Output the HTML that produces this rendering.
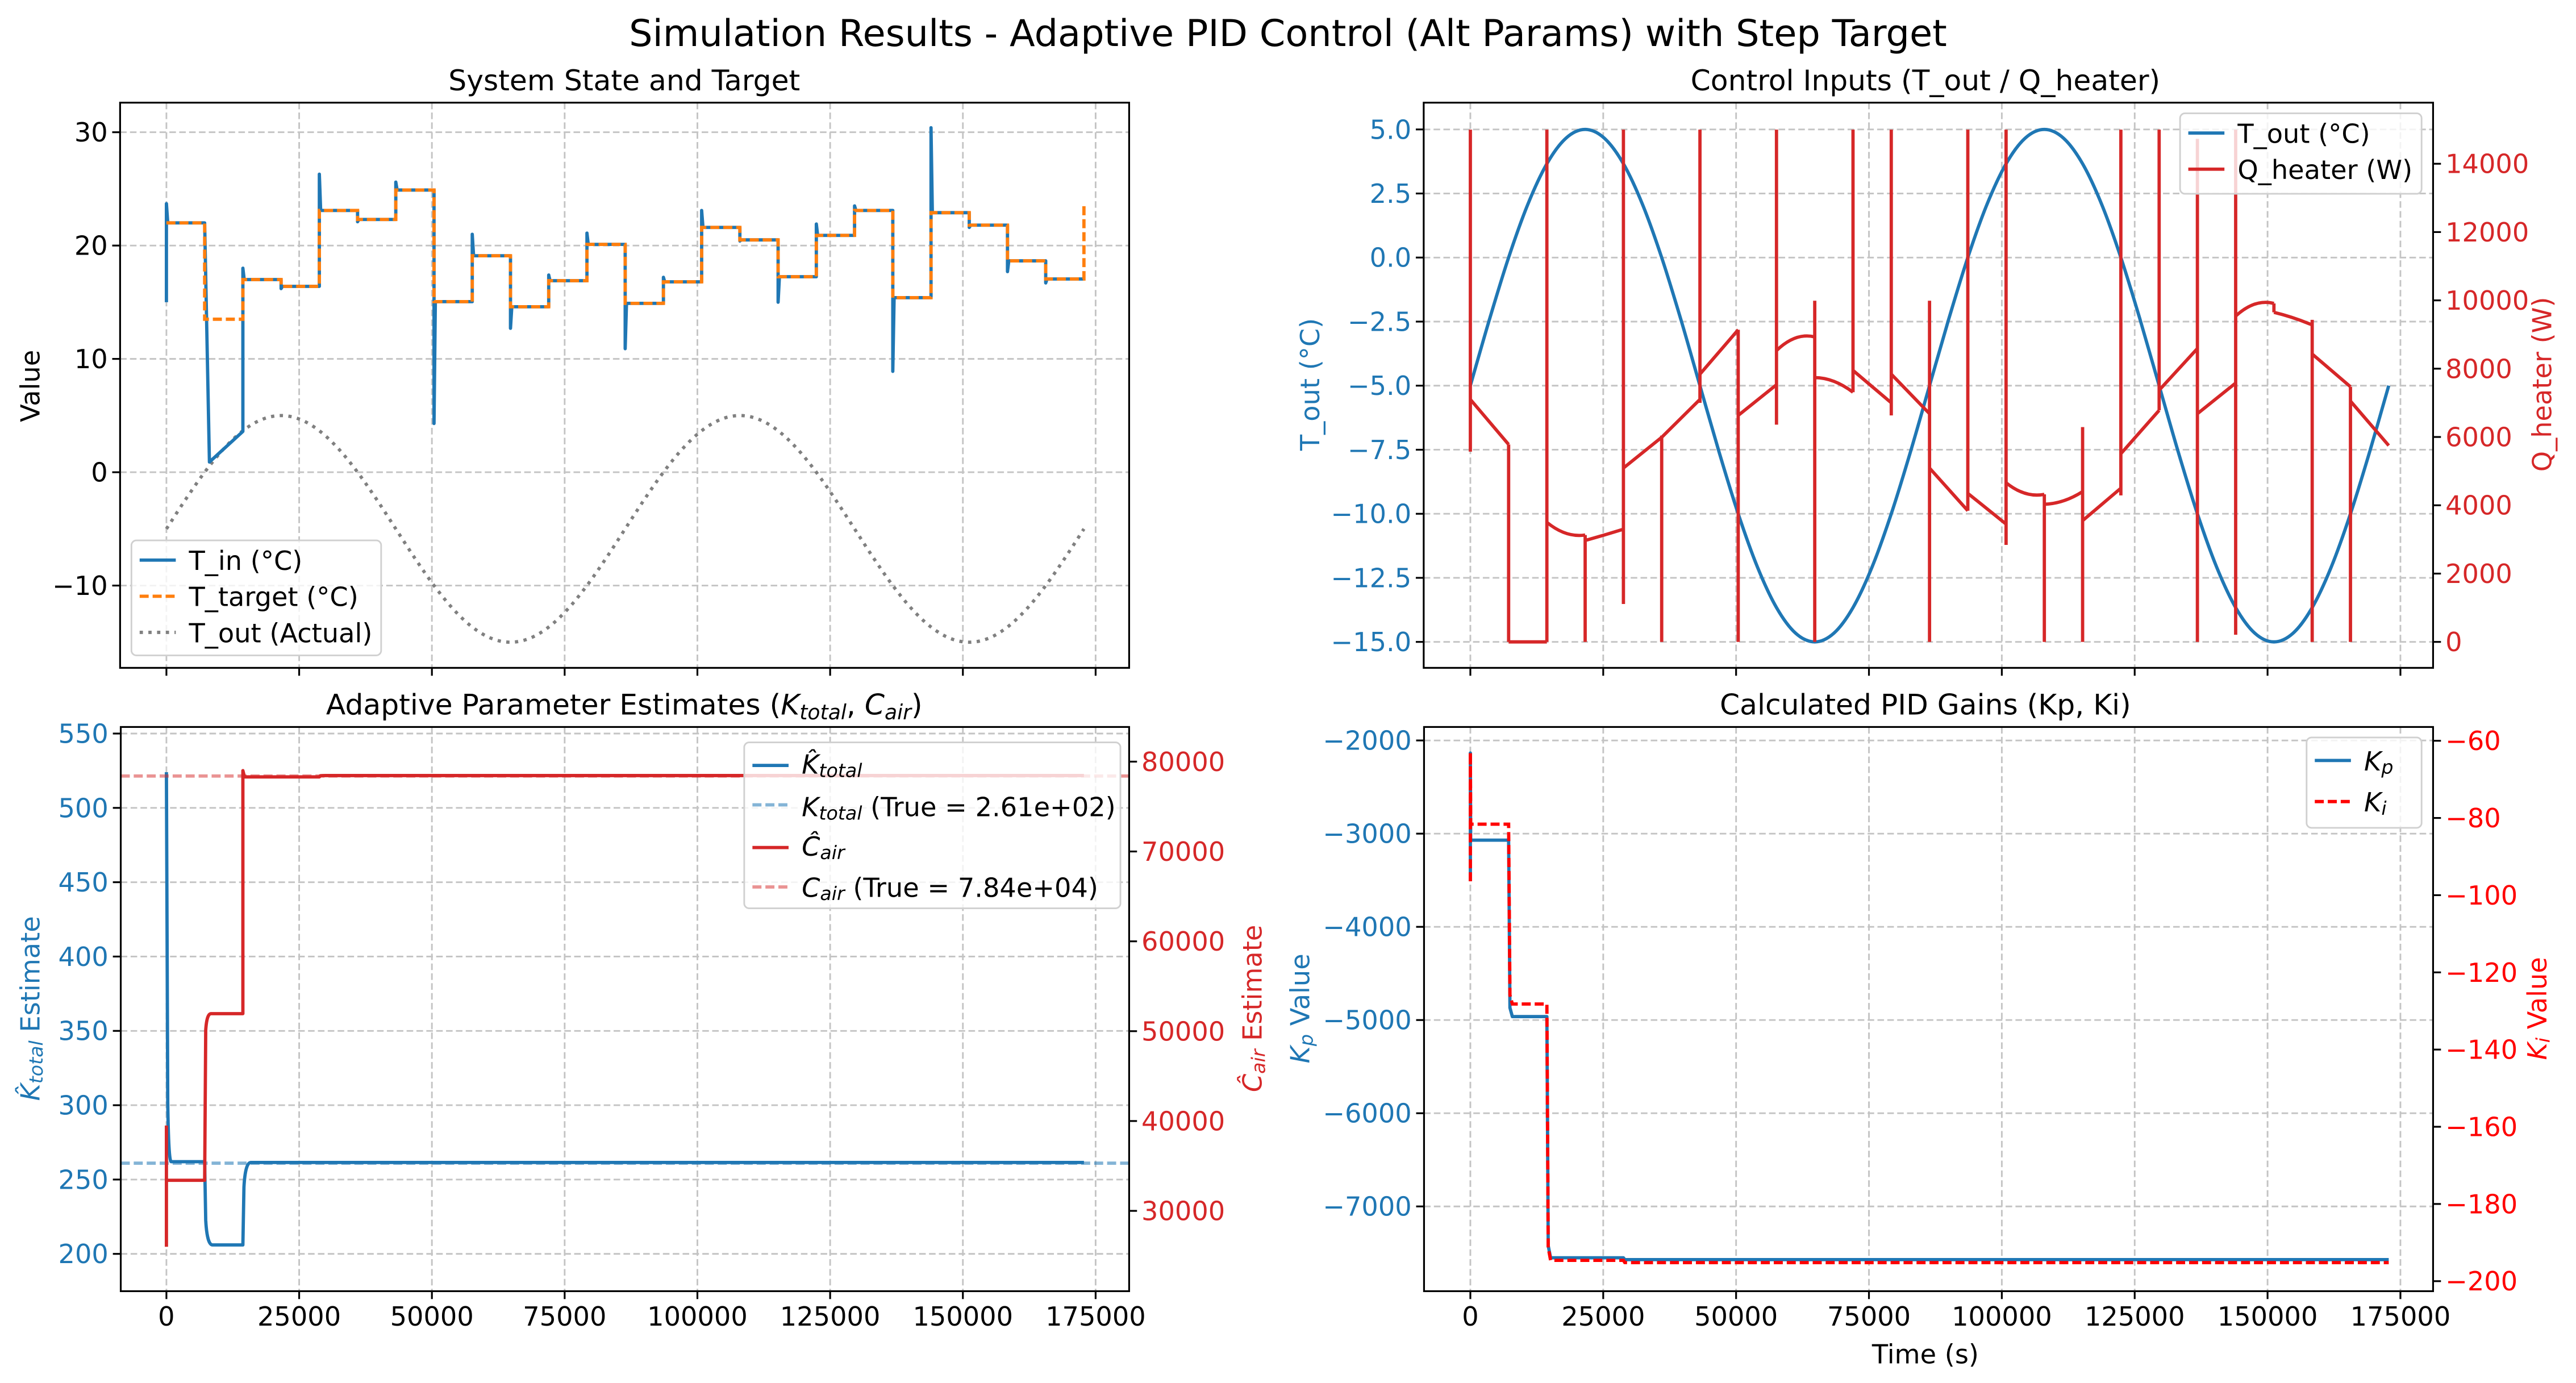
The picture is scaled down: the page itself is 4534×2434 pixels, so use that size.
<!DOCTYPE html>
<html><head><meta charset="utf-8"><title>Simulation Results</title>
<style>html,body{margin:0;padding:0;background:#fff}svg{display:block}text{font-family:"DejaVu Sans","Liberation Sans",sans-serif}</style>
</head><body>
<svg id="fig" width="4534" height="2434" viewBox="0 0 1568 842" preserveAspectRatio="none" xmlns="http://www.w3.org/2000/svg">
<rect x="0" y="0" width="1568" height="842" fill="#fff"/>
<text x="784" y="28" font-size="22.6" text-anchor="middle">Simulation Results - Adaptive PID Control (Alt Params) with Step Target</text>
</svg>
<script>
// ---- data ----
const segDur = 7200;
const tTargetVals = [22.0,13.5,17.0,16.4,23.1,22.3,24.9,15.05,19.1,14.6,16.9,20.1,14.9,16.8,21.6,20.5,17.25,20.9,23.1,15.4,22.9,21.8,18.65,17.05];
const tTargetFinal = 23.5;
const tinStartVal = 15.0;
const tinSpike = [23.7,22,18,16.2,26.3,22.1,25.6,4.3,21,12.7,17.4,21.1,10.9,17.2,23.1,20.4,15.0,21.9,23.5,8.9,30.4,21.6,17.7,16.7];
const tinSettle = [22.0,0.9,17.0,16.4,23.1,22.3,24.9,15.05,19.1,14.6,16.9,20.1,14.9,16.8,21.6,20.5,17.25,20.9,23.1,15.4,22.9,21.8,18.65,17.05];
const tinEnd = [22.0,3.6,17.0,16.4,23.1,22.3,24.9,15.05,19.1,14.6,16.9,20.1,14.9,16.8,21.6,20.5,17.25,20.9,23.1,15.4,22.9,21.8,18.65,17.05];
const toutStep = 3600;
const toutVals = [-5,-2.41,0,2.07,3.66,4.66,5,4.66,3.66,2.07,0,-2.41,-5,-7.59,-10,-12.07,-13.66,-14.66,-15,-14.66,-13.66,-12.07,-10,-7.59,-5,-2.41,0,2.07,3.66,4.66,5,4.66,3.66,2.07,0,-2.41,-5,-7.59,-10,-12.07,-13.66,-14.66,-15,-14.66,-13.66,-12.07,-10,-7.59,-5];
const qStart = [7100,0,3500,2970,5090,5990,7840,6630,8530,7740,7950,7840,5090,4350,4660,4030,3550,5510,7370,6680,9540,9650,8430,7050];
const qMid   = [6440,0,3180,3130,5540,6545,8490,7080,8900,7630,7475,7260,4465,3900,4350,4130,4025,6145,7980,7130,9890,9490,7950,6400];
const qEnd   = [5780,0,3130,3300,5990,7100,9140,7530,8930,7310,7000,6680,3840,3450,4320,4400,4500,6780,8590,7580,9910,9280,7470,5750];
const qSpikeHi = [15000,5780,15000,3130,15000,6040,15000,9140,15000,9990,15000,15000,9990,15000,15000,4320,6290,15000,15000,14730,15000,9910,9430,7470];
const qSpikeLo = [5570,0,0,0,1110,0,7000,0,6360,0,7310,6630,0,3840,2840,0,0,4290,6780,0,210,9650,0,0];
const estTimes = [0,7200,14400,28800,172800];
const kHatVals = [262,206,261.5,261.5];
const kHatSpike = 524;
const cHatVals = [33400,51950,78300,78450];
const cHatSpikeHi = 39500, cHatSpikeLo = 26000, cHatPeak = 79000;
const kTrue = 261, cTrue = 78400;
const kpVals = [-3070,-4963,-7551,-7571];
const kiVals = [-81.6,-128.2,-194.6,-195.2];
const kpSpikeHi = -2135, kpSpikeLo = -3510;
const kiSpikeHi = -63, kiSpikeLo = -96.4;
const xTicks = [0,25000,50000,75000,100000,125000,150000,175000];
const tlYTicks = [-10,0,10,20,30];
const trYTicks = [5,2.5,0,-2.5,-5,-7.5,-10,-12.5,-15];
const trY2Ticks = [0,2000,4000,6000,8000,10000,12000,14000];
const blYTicks = [200,250,300,350,400,450,500,550];
const blY2Ticks = [30000,40000,50000,60000,70000,80000];
const brYTicks = [-7000,-6000,-5000,-4000,-3000,-2000];
const brY2Ticks = [-200,-180,-160,-140,-120,-100,-80,-60];

// ---- scales ----
const NS='http://www.w3.org/2000/svg';
const svg=document.getElementById('fig');
const xL=t=>101.3+t*0.003232, xR=t=>895+t*0.003235;
const yTL=v=>80.5+(30-v)*6.90;
const yTR=v=>78.8+(5-v)*15.6, yTR2=q=>390.8-q*0.020793;
const yBL=v=>446.6+(550-v)*0.9051, yBL2=v=>463.7+(80000-v)*0.00547;
const yBR=v=>450.8+(-2000-v)*0.05674, yBR2=v=>451+(-60-v)*2.35;
const BLUE='#1f77b4', RED='#d62728', ORANGE='#ff7f0e';
const FS=16, TFS=17.4, LFS=16, SUB=11.5;
const fmtMinus=s=>String(s).replace('-','\u2212');

function mk(tag,attrs,name,parent){
  const el=document.createElementNS(NS,tag);
  for(const k in attrs) el.setAttribute(k,attrs[k]);
  
  
  (parent||svg).appendChild(el);
  return el;
}
function txt(x,y,s,size,anchor,fill,name,extra){
  const a=Object.assign({x:x,y:y,'font-size':size,'text-anchor':anchor,fill:fill},extra||{});
  const t=mk('text',a,name);
  t.textContent=s;
  return t;
}
function panel(box,name){ return mk('g',{},name); }
function frame(box,g,name){
  mk('rect',{x:box.x0,y:box.y0,width:box.x1-box.x0,height:box.y1-box.y0,fill:'none',stroke:'#000','stroke-width':1.1},name,g);
}
function gridH(box,g,ys,name){ys.forEach(y=>mk('line',{x1:box.x0,x2:box.x1,y1:y,y2:y,stroke:'#c4c4c4','stroke-width':1,'stroke-dasharray':'4,2'},name,g));}
function gridV(box,g,xs,name){xs.forEach(x=>mk('line',{y1:box.y0,y2:box.y1,x1:x,x2:x,stroke:'#c4c4c4','stroke-width':1,'stroke-dasharray':'4,2'},name,g));}
function xTickMarks(box,g,xf,labels){
  xTicks.forEach(t=>{
    mk('line',{x1:xf(t),x2:xf(t),y1:box.y1,y2:box.y1+4.8,stroke:'#000','stroke-width':1.1},'x-tick',g);
    if(labels) txt(xf(t),box.y1+21,String(t),FS,'middle','#000','x-tick-label');
  });
}
function yTickMarks(box,g,ticks,yf,side,color,fmt){
  ticks.forEach(v=>{
    const y=yf(v);
    if(side==='left'){
      mk('line',{x1:box.x0-4.8,x2:box.x0,y1:y,y2:y,stroke:'#000','stroke-width':1.1},'y-tick',g);
      txt(box.x0-7.5,y+5.7,fmtMinus(fmt?fmt(v):v),FS,'end',color,'y-tick-label');
    } else {
      mk('line',{x1:box.x1,x2:box.x1+4.8,y1:y,y2:y,stroke:'#000','stroke-width':1.1},'y2-tick',g);
      txt(box.x1+7.5,y+5.7,fmtMinus(fmt?fmt(v):v),FS,'start',color,'y2-tick-label');
    }
  });
}
function pathEl(d,attrs,name,g){return mk('path',Object.assign({d:d,fill:'none'},attrs),name,g);}
function ylabel(x,y,content,color,name){
  const t=mk('text',{x:0,y:0,'font-size':FS,'text-anchor':'middle',fill:color,transform:`translate(${x},${y}) rotate(-90)`},name);
  t.innerHTML=content;
  return t;
}
function smoothPath(pts){
  let d='M'+pts[0][0].toFixed(2)+','+pts[0][1].toFixed(2);
  for(let i=0;i<pts.length-1;i++){
    const p0=pts[Math.max(0,i-1)],p1=pts[i],p2=pts[i+1],p3=pts[Math.min(pts.length-1,i+2)];
    const c1=[p1[0]+(p2[0]-p0[0])/6,p1[1]+(p2[1]-p0[1])/6];
    const c2=[p2[0]-(p3[0]-p1[0])/6,p2[1]-(p3[1]-p1[1])/6];
    d+='C'+c1[0].toFixed(2)+','+c1[1].toFixed(2)+' '+c2[0].toFixed(2)+','+c2[1].toFixed(2)+' '+p2[0].toFixed(2)+','+p2[1].toFixed(2);
  }
  return d;
}

// ---- panel boxes ----
const TL={x0:73.1,x1:687.3,y0:62.5,y1:406.6};
const TR={x0:866.6,x1:1481,y0:62.5,y1:406.6};
const BL={x0:73.5,x1:687.3,y0:442.6,y1:786.1};
const BR={x0:866.8,x1:1481,y0:442.6,y1:786.1};
const tEnd=segDur*tTargetVals.length;

// ===== Top-left =====
{
  const g=panel(TL,'system-state-panel');
  gridV(TL,g,xTicks.map(xL),'x-grid-line');
  gridH(TL,g,tlYTicks.map(yTL),'y-grid-line');
  const pts=toutVals.map((v,i)=>[xL(i*toutStep),yTL(v)]);
  pathEl(smoothPath(pts),{stroke:'#808080','stroke-width':2,'stroke-dasharray':'2,3.3'},'t-out-actual-line',g);
  let d='M'+xL(0)+','+yTL(tinStartVal);
  tinSpike.forEach((s,i)=>{
    const t0=i*segDur,t1=t0+segDur;
    const dt=(i===1)?900:250;
    d+='L'+xL(t0).toFixed(2)+','+yTL(s).toFixed(2);
    d+='L'+xL(t0+dt).toFixed(2)+','+yTL(tinSettle[i]).toFixed(2);
    d+='L'+xL(t1).toFixed(2)+','+yTL(tinEnd[i]).toFixed(2);
  });
  pathEl(d,{stroke:BLUE,'stroke-width':2,'stroke-linejoin':'round'},'t-in-line',g);
  d='';
  tTargetVals.forEach((v,i)=>{
    d+=(i?'L':'M')+xL(i*segDur).toFixed(2)+','+yTL(v).toFixed(2);
    d+='L'+xL((i+1)*segDur).toFixed(2)+','+yTL(v).toFixed(2);
  });
  d+='L'+xL(tEnd).toFixed(2)+','+yTL(tTargetFinal).toFixed(2);
  pathEl(d,{stroke:ORANGE,'stroke-width':2,'stroke-dasharray':'5.5,2.4'},'t-target-line',g);
  frame(TL,g,'system-state-frame');
  xTickMarks(TL,g,xL,false);
  yTickMarks(TL,g,tlYTicks,yTL,'left','#000');
  txt(380,55,'System State and Target',TFS,'middle','#000','system-state-title');
  ylabel(24,235,'Value','#000','value-axis-title');
  const lg=mk('g',{},'system-state-legend');
  mk('rect',{x:80,y:329,width:152,height:70,rx:3,fill:'#fff','fill-opacity':0.8,stroke:'#d0d0d0','stroke-width':1},'legend-box',lg);
  mk('line',{x1:85,x2:107,y1:341,y2:341,stroke:BLUE,'stroke-width':2},'legend-t-in-swatch',lg);
  mk('line',{x1:85,x2:107,y1:363,y2:363,stroke:ORANGE,'stroke-width':2,'stroke-dasharray':'5.5,2.4'},'legend-t-target-swatch',lg);
  mk('line',{x1:85,x2:107,y1:385,y2:385,stroke:'#808080','stroke-width':2,'stroke-dasharray':'2,3.3'},'legend-t-out-swatch',lg);
  txt(115,347,'T_in (°C)',LFS,'start','#000','legend-t-in');
  txt(115,369,'T_target (°C)',LFS,'start','#000','legend-t-target');
  txt(115,391,'T_out (Actual)',LFS,'start','#000','legend-t-out');
}

// ===== Top-right =====
{
  const g=panel(TR,'control-inputs-panel');
  gridV(TR,g,xTicks.map(xR),'x-grid-line');
  gridH(TR,g,trYTicks.map(yTR),'y-grid-line');
  const pts=toutVals.map((v,i)=>[xR(i*toutStep),yTR(v)]);
  pathEl(smoothPath(pts),{stroke:BLUE,'stroke-width':2,'stroke-linejoin':'round'},'t-out-line',g);
  let d='';
  qStart.forEach((s,i)=>{
    const t0=i*segDur,t1=t0+segDur;
    const x0=xR(t0),x1=xR(t1),xm=(x0+x1)/2;
    const y0=yTR2(s),y1=yTR2(qEnd[i]),ym=yTR2(qMid[i]);
    const cy=2*ym-(y0+y1)/2;
    if(i>0) d+='M'+x0.toFixed(2)+','+yTR2(qEnd[i-1]).toFixed(2)+'L'+x0.toFixed(2)+','+y0.toFixed(2);
    d+='M'+x0.toFixed(2)+','+y0.toFixed(2)+'Q'+xm.toFixed(2)+','+cy.toFixed(2)+' '+x1.toFixed(2)+','+y1.toFixed(2);
  });
  qSpikeHi.forEach((h,i)=>{
    const x=xR(i*segDur).toFixed(2);
    d+='M'+x+','+yTR2(h).toFixed(2)+'L'+x+','+yTR2(qSpikeLo[i]).toFixed(2);
  });
  pathEl(d,{stroke:RED,'stroke-width':2,'stroke-linejoin':'round'},'q-heater-line',g);
  frame(TR,g,'control-inputs-frame');
  xTickMarks(TR,g,xR,false);
  yTickMarks(TR,g,trYTicks,yTR,'left',BLUE,v=>v.toFixed(1));
  yTickMarks(TR,g,trY2Ticks,yTR2,'right',RED);
  txt(1172,55,'Control Inputs (T_out / Q_heater)',TFS,'middle','#000','control-inputs-title');
  ylabel(803,234,'T_out (°C)',BLUE,'t-out-axis-title');
  ylabel(1553,234,'Q_heater (W)',RED,'q-heater-axis-title');
  const lg=mk('g',{},'control-inputs-legend');
  mk('rect',{x:1327,y:69,width:147,height:49,rx:3,fill:'#fff','fill-opacity':0.8,stroke:'#d0d0d0','stroke-width':1},'legend-box',lg);
  mk('line',{x1:1332,x2:1354,y1:81,y2:81,stroke:BLUE,'stroke-width':2},'legend-t-out-swatch',lg);
  mk('line',{x1:1332,x2:1354,y1:103,y2:103,stroke:RED,'stroke-width':2},'legend-q-heater-swatch',lg);
  txt(1362,87,'T_out (°C)',LFS,'start','#000','legend-t-out');
  txt(1362,109,'Q_heater (W)',LFS,'start','#000','legend-q-heater');
}

// ===== Bottom-left =====
{
  const g=panel(BL,'parameter-estimates-panel');
  gridV(BL,g,xTicks.map(xL),'x-grid-line');
  gridH(BL,g,blYTicks.map(yBL),'y-grid-line');
  mk('line',{x1:BL.x0,x2:BL.x1,y1:yBL(kTrue),y2:yBL(kTrue),stroke:BLUE,'stroke-opacity':0.55,'stroke-width':2,'stroke-dasharray':'5.5,2.4'},'k-total-true-line',g);
  let d='M'+xL(0)+','+yBL(kHatSpike)+'L'+xL(250)+','+yBL(kHatVals[0]+40)+'Q'+xL(400)+','+yBL(kHatVals[0])+' '+xL(900)+','+yBL(kHatVals[0]);
  for(let i=1;i<kHatVals.length;i++){
    const t=estTimes[i], prev=kHatVals[i-1], v=kHatVals[i];
    d+='L'+xL(t)+','+yBL(prev)+'L'+xL(t+200)+','+yBL(prev+(v-prev)*0.7)+'Q'+xL(t+450)+','+yBL(v)+' '+xL(t+1500)+','+yBL(v);
  }
  d+='L'+xL(tEnd)+','+yBL(kHatVals[kHatVals.length-1]);
  pathEl(d,{stroke:BLUE,'stroke-width':2,'stroke-linejoin':'round'},'k-total-estimate-line',g);
  d='M'+xL(0)+','+yBL2(cHatSpikeHi)+'L'+xL(0)+','+yBL2(cHatSpikeLo)+'M'+xL(0)+','+yBL2(cHatVals[0]);
  for(let i=1;i<cHatVals.length;i++){
    const t=estTimes[i], prev=cHatVals[i-1], v=cHatVals[i];
    if(i===2){ d+='L'+xL(t)+','+yBL2(prev)+'L'+xL(t)+','+yBL2(cHatPeak)+'L'+xL(t+300)+','+yBL2(v); }
    else { d+='L'+xL(t)+','+yBL2(prev)+'L'+xL(t+200)+','+yBL2(prev+(v-prev)*0.9)+'Q'+xL(t+400)+','+yBL2(v)+' '+xL(t+1200)+','+yBL2(v); }
  }
  d+='L'+xL(tEnd)+','+yBL2(cHatVals[cHatVals.length-1]);
  pathEl(d,{stroke:RED,'stroke-width':2,'stroke-linejoin':'round'},'c-air-estimate-line',g);
  mk('line',{x1:BL.x0,x2:BL.x1,y1:yBL2(cTrue),y2:yBL2(cTrue),stroke:RED,'stroke-opacity':0.5,'stroke-width':2,'stroke-dasharray':'5.5,2.4'},'c-air-true-line',g);
  frame(BL,g,'parameter-estimates-frame');
  xTickMarks(BL,g,xL,true);
  yTickMarks(BL,g,blYTicks,yBL,'left',BLUE);
  yTickMarks(BL,g,blY2Ticks,yBL2,'right',RED);
  const tt=txt(380,435,'',TFS,'middle','#000','parameter-estimates-title');
  tt.innerHTML='Adaptive Parameter Estimates (<tspan font-style="italic">K</tspan><tspan font-style="italic" font-size="12.5" dy="3">total</tspan><tspan dy="-3">, </tspan><tspan font-style="italic">C</tspan><tspan font-style="italic" font-size="12.5" dy="3">air</tspan><tspan dy="-3">)</tspan>';
  ylabel(24,614,'<tspan font-style="italic">K̂</tspan><tspan font-style="italic" font-size="'+SUB+'" dy="2">total</tspan><tspan dy="-2"> Estimate</tspan>',BLUE,'k-total-axis-title');
  ylabel(768,614,'<tspan font-style="italic">Ĉ</tspan><tspan font-style="italic" font-size="'+SUB+'" dy="2">air</tspan><tspan dy="-2"> Estimate</tspan>',RED,'c-air-axis-title');
  const lg=mk('g',{},'parameter-estimates-legend');
  mk('rect',{x:453,y:452,width:229,height:101,rx:3,fill:'#fff','fill-opacity':0.8,stroke:'#d0d0d0','stroke-width':1},'legend-box',lg);
  mk('line',{x1:458,x2:480,y1:466,y2:466,stroke:BLUE,'stroke-width':2},'legend-k-hat-swatch',lg);
  mk('line',{x1:458,x2:480,y1:490,y2:490,stroke:BLUE,'stroke-opacity':0.55,'stroke-width':2,'stroke-dasharray':'5.5,2.4'},'legend-k-true-swatch',lg);
  mk('line',{x1:458,x2:480,y1:516,y2:516,stroke:RED,'stroke-width':2},'legend-c-hat-swatch',lg);
  mk('line',{x1:458,x2:480,y1:540,y2:540,stroke:RED,'stroke-opacity':0.5,'stroke-width':2,'stroke-dasharray':'5.5,2.4'},'legend-c-true-swatch',lg);
  let e=txt(488,471,'',LFS,'start','#000','legend-k-hat'); e.innerHTML='<tspan font-style="italic">K̂</tspan><tspan font-style="italic" font-size="'+SUB+'" dy="2">total</tspan>';
  e=txt(488,497,'',LFS,'start','#000','legend-k-true'); e.innerHTML='<tspan font-style="italic">K</tspan><tspan font-style="italic" font-size="'+SUB+'" dy="2">total</tspan><tspan dy="-2"> (True = 2.61e+02)</tspan>';
  e=txt(488,521,'',LFS,'start','#000','legend-c-hat'); e.innerHTML='<tspan font-style="italic">Ĉ</tspan><tspan font-style="italic" font-size="'+SUB+'" dy="2">air</tspan>';
  e=txt(488,546,'',LFS,'start','#000','legend-c-true'); e.innerHTML='<tspan font-style="italic">C</tspan><tspan font-style="italic" font-size="'+SUB+'" dy="2">air</tspan><tspan dy="-2"> (True = 7.84e+04)</tspan>';
}

// ===== Bottom-right =====
{
  const g=panel(BR,'pid-gains-panel');
  gridV(BR,g,xTicks.map(xR),'x-grid-line');
  gridH(BR,g,brYTicks.map(yBR),'y-grid-line');
  function stepPath(vals,yf,hi,lo){
    let d='M'+xR(0)+','+yf(lo)+'L'+xR(0)+','+yf(hi)+'L'+xR(60)+','+yf(vals[0]);
    for(let i=1;i<vals.length;i++){
      const t=estTimes[i];
      d+='L'+xR(t)+','+yf(vals[i-1])+'L'+xR(t+250)+','+yf(vals[i-1]+(vals[i]-vals[i-1])*0.95)+'L'+xR(t+700)+','+yf(vals[i]);
    }
    d+='L'+xR(tEnd)+','+yf(vals[vals.length-1]);
    return d;
  }
  pathEl(stepPath(kpVals,yBR,kpSpikeHi,kpSpikeLo),{stroke:BLUE,'stroke-width':2,'stroke-linejoin':'round'},'kp-line',g);
  pathEl(stepPath(kiVals,yBR2,kiSpikeHi,kiSpikeLo),{stroke:'#ff0000','stroke-width':2,'stroke-dasharray':'5.5,2.4'},'ki-line',g);
  frame(BR,g,'pid-gains-frame');
  xTickMarks(BR,g,xR,true);
  yTickMarks(BR,g,brYTicks,yBR,'left',BLUE);
  yTickMarks(BR,g,brY2Ticks,yBR2,'right','#ff0000');
  txt(1172,435,'Calculated PID Gains (Kp, Ki)',TFS,'middle','#000','pid-gains-title');
  txt(1172,830,'Time (s)',FS,'middle','#000','x-axis-title');
  ylabel(797,614,'<tspan font-style="italic">K</tspan><tspan font-style="italic" font-size="'+SUB+'" dy="2">p</tspan><tspan dy="-2"> Value</tspan>',BLUE,'kp-axis-title');
  ylabel(1550,614,'<tspan font-style="italic">K</tspan><tspan font-style="italic" font-size="'+SUB+'" dy="2">i</tspan><tspan dy="-2"> Value</tspan>','#ff0000','ki-axis-title');
  const lg=mk('g',{},'pid-gains-legend');
  mk('rect',{x:1404,y:449,width:70,height:55,rx:3,fill:'#fff','fill-opacity':0.8,stroke:'#d0d0d0','stroke-width':1},'legend-box',lg);
  mk('line',{x1:1409,x2:1431,y1:463,y2:463,stroke:BLUE,'stroke-width':2},'legend-kp-swatch',lg);
  mk('line',{x1:1409,x2:1431,y1:488,y2:488,stroke:'#ff0000','stroke-width':2,'stroke-dasharray':'5.5,2.4'},'legend-ki-swatch',lg);
  let e=txt(1439,469,'',LFS,'start','#000','legend-kp'); e.innerHTML='<tspan font-style="italic">K</tspan><tspan font-style="italic" font-size="'+SUB+'" dy="2">p</tspan>';
  e=txt(1439,494,'',LFS,'start','#000','legend-ki'); e.innerHTML='<tspan font-style="italic">K</tspan><tspan font-style="italic" font-size="'+SUB+'" dy="2">i</tspan>';
}
</script>
</body></html>
